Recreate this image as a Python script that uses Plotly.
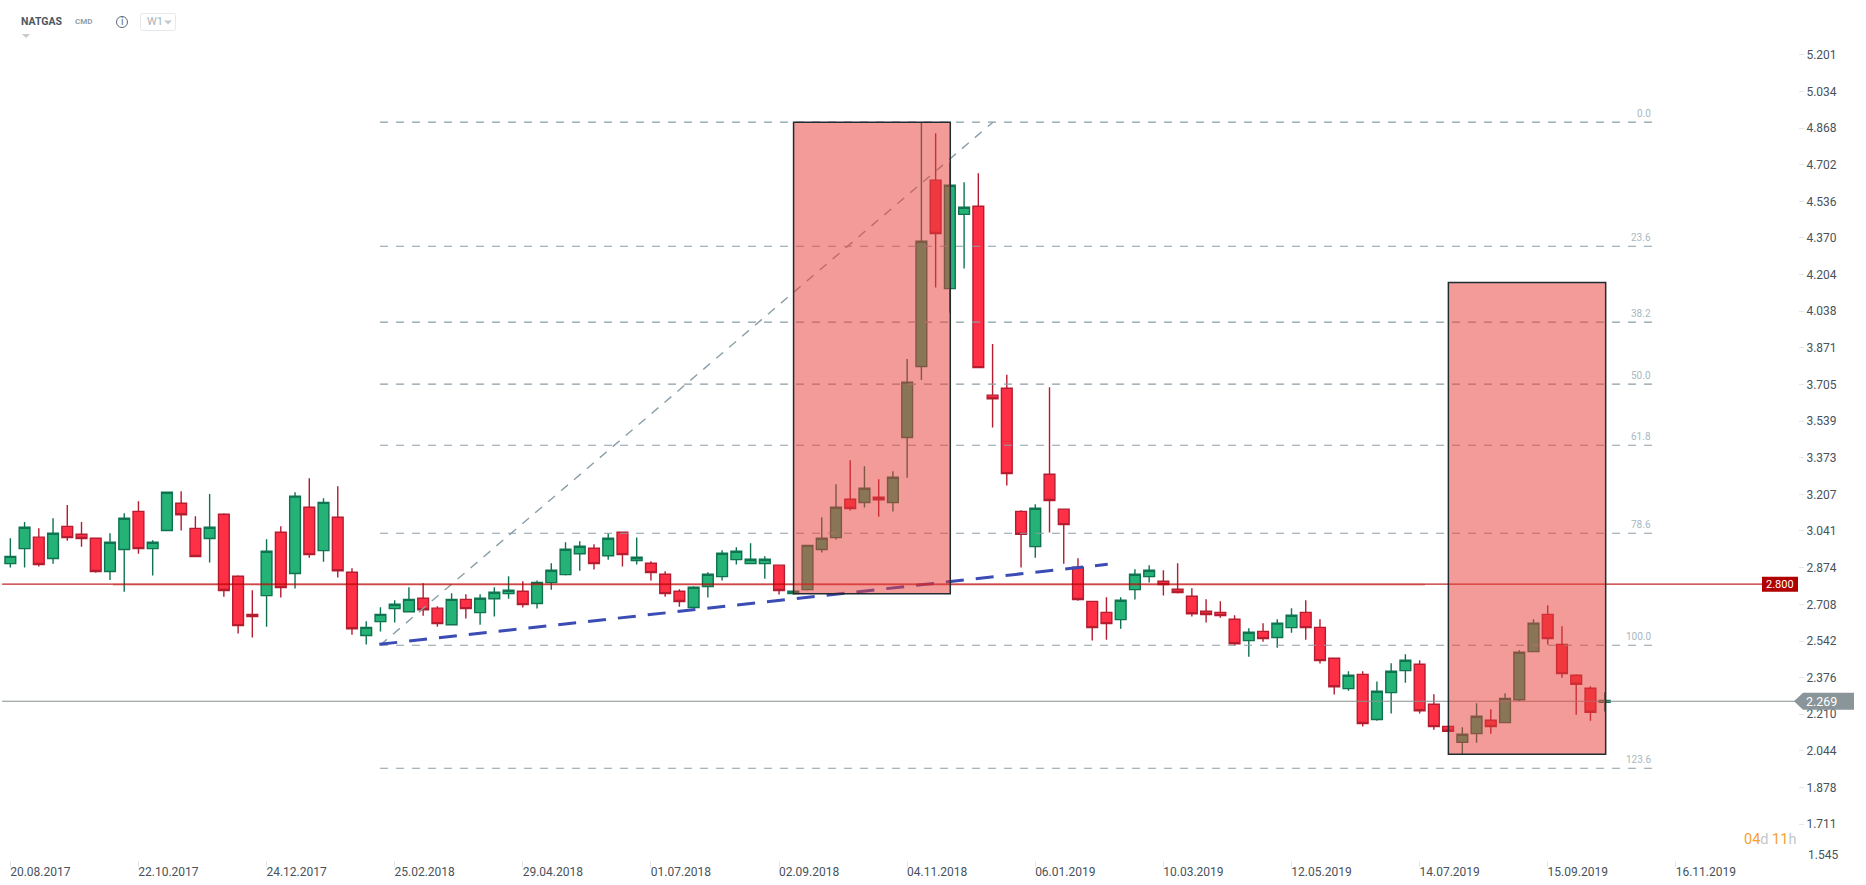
import plotly.graph_objects as go

# ---- data (weekly NATGAS candles) ----
opens = [2.893,2.961,3.013,2.916,3.062,3.026,3.008,2.857,2.957,3.130,
         2.961,3.043,3.167,3.053,3.007,3.117,2.836,2.663,2.748,3.035,
         2.848,3.149,2.952,3.103,2.854,2.567,2.630,2.689,2.675,2.736,
         2.691,2.616,2.731,2.671,2.734,2.757,2.768,2.712,2.807,2.843,
         2.938,2.963,2.929,3.035,2.907,2.895,2.845,2.768,2.694,2.789,
         2.834,2.911,2.893,2.893,2.886,2.757,2.775,2.957,3.011,3.185,
         3.170,3.194,3.170,3.465,3.787,4.632,4.140,4.477,4.514,3.657,
         3.688,3.130,2.970,3.298,3.140,2.877,2.722,2.672,2.639,2.775,
         2.834,2.813,2.777,2.745,2.677,2.672,2.641,2.544,2.586,2.558,
         2.603,2.672,2.604,2.464,2.326,2.391,2.186,2.308,2.408,2.437,
         2.255,2.155,2.083,2.122,2.183,2.172,2.276,2.494,2.663,2.527,
         2.387,2.328,2.264]
highs = [3.008,3.082,3.053,3.099,3.159,3.082,3.008,3.031,3.121,3.176,
         2.999,3.217,3.221,3.108,3.209,3.121,2.840,2.772,3.003,3.062,
         3.217,3.280,3.189,3.244,2.872,2.632,2.695,2.727,2.786,2.804,
         2.700,2.759,2.754,2.754,2.786,2.836,2.813,2.817,2.895,2.990,
         2.994,2.981,3.031,3.035,3.012,2.904,2.858,2.777,2.790,2.854,
         2.954,2.967,2.985,2.926,2.886,2.768,2.978,3.103,3.253,3.362,
         3.335,3.276,3.312,3.821,4.895,4.845,4.713,4.623,4.663,3.889,
         3.749,3.135,3.162,3.693,3.140,2.917,2.722,2.740,2.740,2.867,
         2.886,2.863,2.895,2.781,2.731,2.722,2.659,2.600,2.623,2.641,
         2.691,2.727,2.641,2.464,2.405,2.405,2.359,2.441,2.482,2.455,
         2.301,2.155,2.151,2.260,2.233,2.305,2.500,2.641,2.704,2.609,
         2.391,2.337,2.310]
lows = [2.875,2.875,2.880,2.893,2.997,2.970,2.852,2.819,2.766,2.938,
        2.839,3.043,3.043,2.925,2.898,2.743,2.576,2.558,2.607,2.739,
        2.780,2.920,2.902,2.830,2.571,2.526,2.585,2.626,2.671,2.657,
        2.607,2.616,2.644,2.616,2.653,2.734,2.694,2.689,2.775,2.839,
        2.861,2.866,2.911,2.880,2.889,2.816,2.743,2.698,2.694,2.739,
        2.816,2.889,2.893,2.825,2.753,2.753,2.771,2.943,3.002,3.134,
        3.147,3.106,3.129,3.283,3.726,4.145,4.031,4.231,3.782,3.510,
        3.247,2.875,2.920,3.034,2.893,2.725,2.544,2.548,2.598,2.730,
        2.807,2.748,2.757,2.653,2.626,2.648,2.523,2.471,2.539,2.512,
        2.580,2.548,2.440,2.299,2.317,2.154,2.181,2.213,2.353,2.213,
        2.140,2.133,2.030,2.081,2.122,2.172,2.270,2.494,2.526,2.376,
        2.208,2.181,2.222]
closes = [2.926,3.058,2.889,3.031,3.011,3.007,2.857,2.990,3.099,2.961,
          2.990,3.217,3.115,2.925,3.058,2.771,2.612,2.653,2.949,2.784,
          3.199,2.934,3.171,2.861,2.598,2.604,2.663,2.709,2.731,2.684,
          2.621,2.731,2.689,2.736,2.763,2.772,2.707,2.808,2.863,2.958,
          2.972,2.893,3.008,2.934,2.922,2.852,2.757,2.721,2.786,2.845,
          2.940,2.949,2.913,2.913,2.771,2.768,2.976,3.008,3.149,3.143,
          3.235,3.183,3.285,3.716,4.355,4.390,4.609,4.509,3.782,3.641,
          3.301,3.026,3.144,3.179,3.070,2.730,2.603,2.621,2.727,2.845,
          2.863,2.798,2.762,2.666,2.662,2.657,2.530,2.582,2.553,2.623,
          2.659,2.603,2.453,2.335,2.387,2.168,2.314,2.405,2.455,2.226,
          2.154,2.133,2.119,2.201,2.154,2.282,2.491,2.623,2.553,2.394,
          2.346,2.219,2.273]
weeks = list(range(len(opens)))

date_ticks = [0, 9, 18, 27, 36, 45, 54, 63, 72, 81, 90, 99, 108, 117]
date_labels = ["20.08.2017","22.10.2017","24.12.2017","25.02.2018","29.04.2018","01.07.2018",
               "02.09.2018","04.11.2018","06.01.2019","10.03.2019","12.05.2019","14.07.2019",
               "15.09.2019","16.11.2019"]
price_ticks = [5.201,5.034,4.868,4.702,4.536,4.370,4.204,4.038,3.871,3.705,3.539,3.373,3.207,
               3.041,2.874,2.708,2.542,2.376,2.210,2.044,1.878,1.711]

fib_levels = [4.895,4.332,3.988,3.707,3.430,3.031,2.523,1.965]
fib_labels = ["0.0","23.6","38.2","50.0","61.8","78.6","100.0","123.6"]
fib_x = [25.97, 115.37]
diag_x = [25.97, 69.03]
diag_y = [2.523, 4.895]
trend_x = [25.92, 77.09]
trend_y = [2.527, 2.890]
level_red = 2.800
level_last = 2.269
boxes = [(55.02, 66.03, 2.756, 4.895), (101.02, 112.07, 2.029, 4.168)]

# ---- layout constants ----
W, H = 1866, 885
PW, PH = 1798, 860
XR = [-0.726, 125.58]
YR = [1.549, 5.449]
px = lambda v: v / PW
py = lambda v: 1 - v / PH

GREEN, GREEN_L = "#25b277", "#0f7350"
RED, RED_L = "#ff3045", "#b41c30"
FIB = "#8a9ea8"
TXT = "#47525b"

fig = go.Figure()
fig.add_trace(go.Candlestick(
    x=weeks, open=opens, high=highs, low=lows, close=closes,
    increasing=dict(fillcolor=GREEN, line=dict(color=GREEN_L, width=1.4)),
    decreasing=dict(fillcolor=RED, line=dict(color=RED_L, width=1.4)),
    whiskerwidth=0, showlegend=False, hoverinfo="skip"))

for lv in fib_levels:
    fig.add_trace(go.Scatter(x=fib_x, y=[lv, lv], mode="lines", hoverinfo="skip", showlegend=False,
                             line=dict(color=FIB, width=1.1, dash="8px,8px")))
fig.add_trace(go.Scatter(x=diag_x, y=diag_y, mode="lines", hoverinfo="skip", showlegend=False,
                         line=dict(color=FIB, width=1.4, dash="9px,8px")))
fig.add_trace(go.Scatter(x=trend_x, y=trend_y, mode="lines", hoverinfo="skip", showlegend=False,
                         line=dict(color="#3b4cb4", width=3, dash="18px,12px")))
fig.add_trace(go.Scatter(x=[7.21, 99.38], y=[level_red - 0.003, level_red - 0.003], mode="lines", hoverinfo="skip",
                         showlegend=False, line=dict(color="rgba(200,40,40,0.28)", width=2)))
fig.add_trace(go.Scatter(x=[-0.58, 123.05], y=[level_red, level_red], mode="lines", hoverinfo="skip",
                         showlegend=False, line=dict(color="rgba(185,0,0,0.85)", width=1.2)))
fig.add_trace(go.Scatter(x=[-0.58, 125.37], y=[level_last, level_last], mode="lines", hoverinfo="skip",
                         showlegend=False, line=dict(color="#86918f", width=1.2)))

shapes = []
for x0, x1, y0, y1 in boxes:
    shapes.append(dict(type="rect", xref="x", yref="y", x0=x0, x1=x1, y0=y0, y1=y1, layer="above",
                       fillcolor="rgba(231,63,57,0.52)", line=dict(color="#1f2d33", width=1.5)))
# price badges
shapes.append(dict(type="rect", xref="paper", yref="y", x0=px(1762), x1=px(1798),
                   y0=level_red - 0.034, y1=level_red + 0.034, fillcolor="#b00000",
                   line=dict(width=0), layer="above"))
dy = 8.6 / 220.5
path = (f"M {px(1794)} {level_last} L {px(1803)} {level_last + dy} L {px(1854)} {level_last + dy} "
        f"L {px(1854)} {level_last - dy} L {px(1803)} {level_last - dy} Z")
shapes.append(dict(type="path", xref="paper", yref="y", path=path, fillcolor="#8a9599",
                   line=dict(width=0), layer="above"))
# header widgets
shapes.append(dict(type="circle", xref="paper", yref="paper", x0=px(116.5), x1=px(127.5), y0=py(27.5), y1=py(16.5),
                   line=dict(color="#5a6a72", width=1)))
shapes.append(dict(type="path", xref="paper", yref="paper",
                   path=(f"M {px(142.5)} {py(13.5)} L {px(173.5)} {py(13.5)} Q {px(175.5)} {py(13.5)} {px(175.5)} {py(15.5)} "
                         f"L {px(175.5)} {py(28.5)} Q {px(175.5)} {py(30.5)} {px(173.5)} {py(30.5)} "
                         f"L {px(142.5)} {py(30.5)} Q {px(140.5)} {py(30.5)} {px(140.5)} {py(28.5)} "
                         f"L {px(140.5)} {py(15.5)} Q {px(140.5)} {py(13.5)} {px(142.5)} {py(13.5)} Z"),
                   line=dict(color="#e6e8ea", width=1)))
for cx, cy in [(168, 20.5), (26, 34)]:
    shapes.append(dict(type="path", xref="paper", yref="paper",
                       path=f"M {px(cx-4)} {py(cy)} L {px(cx+4)} {py(cy)} L {px(cx)} {py(cy+4)} Z",
                       fillcolor="#c6cbce", line=dict(width=0)))

ann = []
def note(x, y, text, size, color, xref="paper", yref="paper", xanchor="center", yshift=0):
    ann.append(dict(x=x, y=y, xref=xref, yref=yref, text=text, showarrow=False, xanchor=xanchor,
                    yanchor="middle", yshift=yshift, font=dict(size=size, color=color, family="Roboto")))

for lv, lb in zip(fib_levels, fib_labels):
    note(fib_x[1], lv, lb, 10, "#a8b8c0", xref="x", yref="y", xanchor="right", yshift=9)
note(px(1780), level_red, "2.800", 11, "white", yref="y")
note(px(1821.5), level_last, "2.269", 12.5, "white", yref="y")
note(px(1806), (1201.6 - 855) / 220.5, "1.545", 12, TXT, yref="y", xanchor="left")
note(px(1798), py(839),
     ('<span style="color:#f5a030">04</span><span style="color:#c3c7ca">d </span>'
      '<span style="color:#f5a030">11</span><span style="color:#c3c7ca">h</span>'),
     14.5, "#f5a030", xanchor="right")
note(px(19), py(22), "<b>NATGAS</b>", 10.5, "#4b5862", xanchor="left")
note(px(73), py(22), "<b>CMD</b>", 8, "#8fa0aa", xanchor="left")
note(px(122), py(22), "i", 10, "#5a6a72")
note(px(145), py(22), "W1", 11, "#a9b2b7", xanchor="left")

fig.update_layout(
    width=W, height=H, autosize=False,
    margin=dict(l=0, r=W - PW, t=0, b=H - PH, pad=0),
    paper_bgcolor="white", plot_bgcolor="white",
    boxgap=0.16, boxgroupgap=0.1,
    showlegend=False, hovermode=False,
    shapes=shapes, annotations=ann,
    font=dict(family="Roboto", size=12, color=TXT),
    xaxis=dict(range=XR, tickmode="array", tickvals=date_ticks, ticktext=date_labels,
               rangeslider=dict(visible=False), showgrid=False, zeroline=False, showline=False,
               ticks="outside", ticklen=6, tickcolor="#e4e6e8", tickwidth=1,
               ticklabelshift=30, ticklabelstandoff=-5,
               tickfont=dict(family="Roboto", size=12, color=TXT)),
    yaxis=dict(range=YR, side="right", tickmode="array", tickvals=price_ticks,
               ticktext=[f"{v:.3f}" for v in price_ticks],
               showgrid=False, zeroline=False, showline=False,
               ticks="outside", ticklen=5, tickcolor="#e4e6e8", tickwidth=1,
               tickfont=dict(family="Roboto", size=12, color=TXT)),
)

fig.write_html("out.html", config={"displayModeBar": False},
               post_script="document.body.style.margin='0';document.body.style.overflow='hidden';")
